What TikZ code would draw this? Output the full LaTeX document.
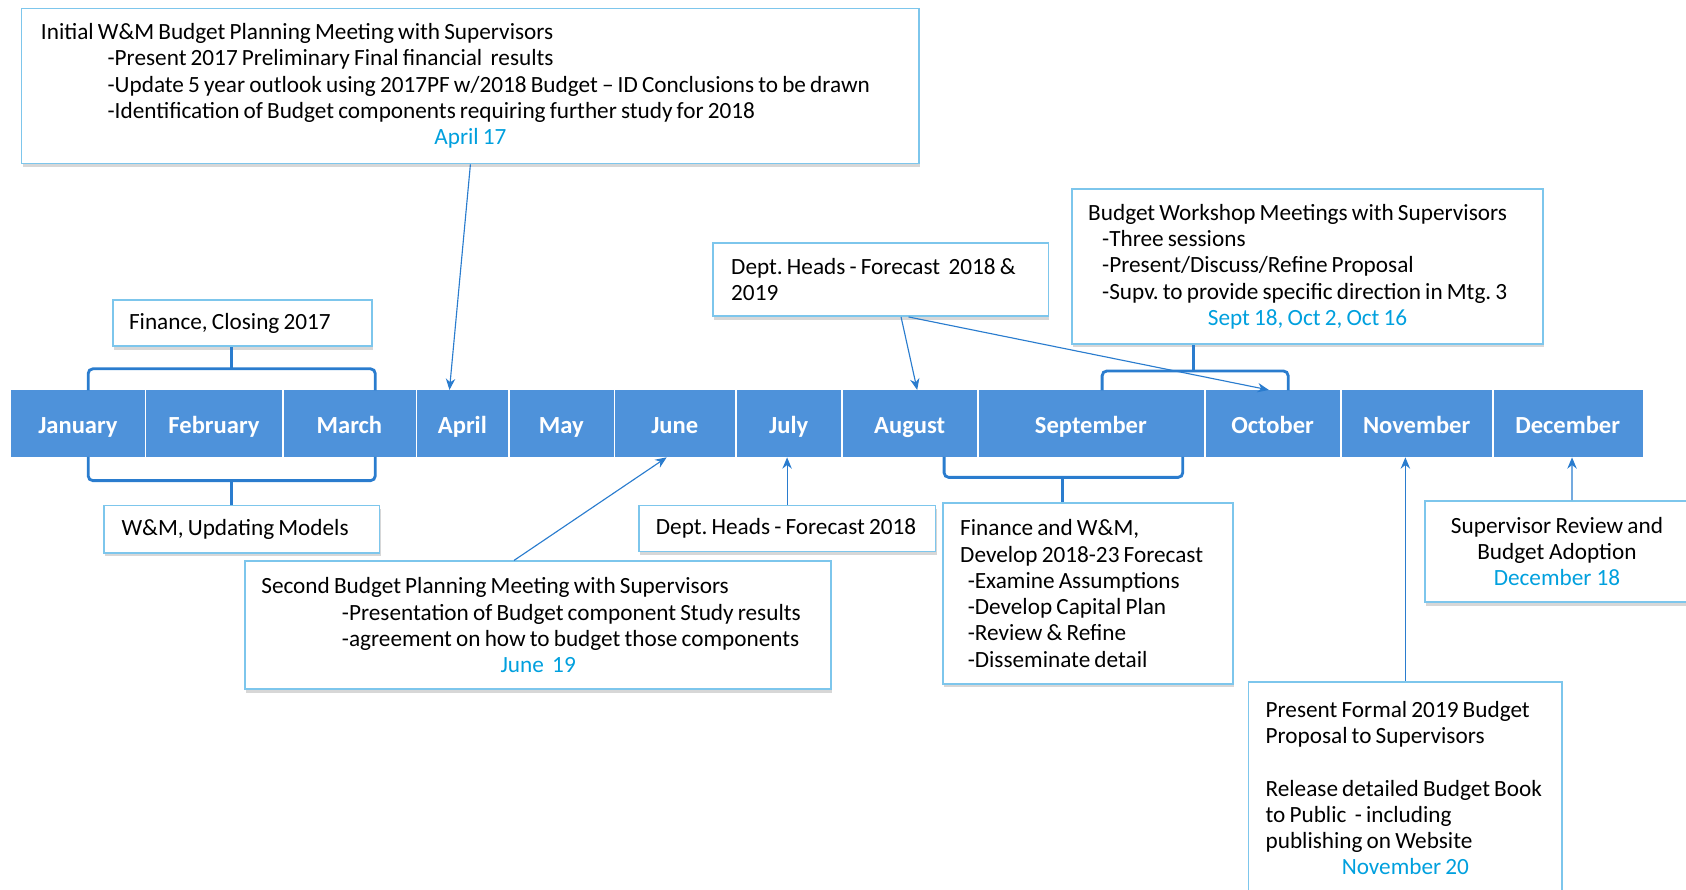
\documentclass[tikz,border=0pt]{standalone}
\usepackage{fontspec}
\setmainfont{Carlito}
\usepackage{xcolor}
\usetikzlibrary{arrows.meta,shadows}
\definecolor{barblue}{RGB}{78,146,218}
\definecolor{boxline}{RGB}{125,198,236}
\definecolor{linkblue}{RGB}{42,124,206}
\definecolor{datecyan}{RGB}{0,160,222}
\DeclareRobustCommand{\tightwords}{\spaceskip=2.2pt plus 0.5pt minus 0.3pt\relax\xspaceskip=\spaceskip}
\tikzset{
   box/.style={draw=boxline, line width=0.9pt, fill=white, inner ysep=0pt, align=left,
      drop shadow={shadow xshift=0.6pt, shadow yshift=-1.8pt, opacity=0.35, fill=black!45},
      font=\fontsize{12.3}{13.9}\selectfont, execute at begin node=\tightwords},
   month/.style={fill=barblue, text=white, inner sep=0pt, minimum height=1.24cm,
      text height=12.4pt, text depth=2.5pt, font=\fontsize{13}{15}\selectfont\bfseries},
   divider/.style={white, line width=0.9pt},
   arr/.style={draw=linkblue, line width=0.6pt, -{Stealth[length=6pt,width=5pt]}},
   brace/.style={draw=linkblue, line width=1.5pt, rounded corners=2.5pt}
}
\newcommand{\when}[1]{\makebox[\linewidth][c]{\color{datecyan}#1}}
\begin{document}
\begin{tikzpicture}[x=0.02cm,y=-0.02cm]
   \useasboundingbox (0,0) rectangle (1568,827);
   \foreach \m/\l/\r/\t in {jan/10/135/January, feb/135/263/February, mar/263/387/March, apr/387/473/April, may/473/571/May, jun/571/684/June, jul/684/783/July, aug/783/909/August, sep/909/1120/September, oct/1120/1247/October, nov/1247/1388/November, dec/1388/1528/December}
      \node[month, minimum width={(\r-\l)*0.02cm}] (\m) at ({(\l+\r)/2},394) {\t};
   \foreach \m in {jan,feb,mar,apr,may,jun,jul,aug,sep,oct,nov}
      \draw[divider] (\m.north east) -- (\m.south east);

   \node[box, text width=15.98cm, inner xsep=0.36cm, minimum height=2.88cm] (initial) at (437.5,80)
      {Initial W\&M Budget Planning Meeting with Supervisors\\
      \hspace*{1.24cm}-Present 2017 Preliminary Final financial\ \ results\\
      \hspace*{1.24cm}-Update 5 year outlook using 2017PF w/2018 Budget -- ID Conclusions to be drawn\\
      \hspace*{1.24cm}-Identification of Budget components requiring further study for 2018\\
      \when{April 17}};
   \node[box, text width=4.22cm, inner xsep=0.3cm, minimum height=0.86cm] (finclose) at (225.5,300.5) {Finance, Closing 2017};
   \node[box, text width=4.48cm, inner xsep=0.32cm, minimum height=0.88cm] (wmupdate) at (225,492) {W\&M, Updating Models};
   \node[box, text width=5.56cm, inner xsep=0.34cm, minimum height=1.36cm] (heads2) at (819,260) {Dept. Heads - Forecast\ \ 2018 \&\\2019};
   \node[box, text width=8.16cm, inner xsep=0.3cm, minimum height=2.88cm] (workshop) at (1216,248)
      {Budget Workshop Meetings with Supervisors\\
      \hspace*{0.26cm}-Three sessions\\
      \hspace*{0.26cm}-Present/Discuss/Refine Proposal\\
      \hspace*{0.26cm}-Supv. to provide specific direction in Mtg. 3\\
      \when{Sept 18, Oct 2, Oct 16}};
   \node[box, text width=10.3cm, inner xsep=0.3cm, minimum height=2.38cm] (second) at (500.5,581.5)
      {Second Budget Planning Meeting with Supervisors\\
      \hspace*{1.5cm}-Presentation of Budget component Study results\\
      \hspace*{1.5cm}-agreement on how to budget those components\\
      \when{June\ \ 19}};
   \node[box, text width=4.88cm, inner xsep=0.32cm, minimum height=0.86cm] (heads1) at (732,491.5) {Dept. Heads - Forecast 2018};
   \node[box, text width=4.76cm, inner xsep=0.32cm, minimum height=3.36cm] (finance) at (1012,552)
      {Finance and W\&M,\\
      Develop 2018-23 Forecast\\
      \hspace*{0.14cm}-Examine Assumptions\\
      \hspace*{0.14cm}-Develop Capital Plan\\
      \hspace*{0.14cm}-Review \& Refine\\
      \hspace*{0.14cm}-Disseminate detail};
   \node[box, text width=5.2cm, inner xsep=0.32cm, minimum height=3.96cm] (present) at (1307,733)
      {Present Formal 2019 Budget\\
      Proposal to Supervisors\\[13.9pt]
      Release detailed Budget Book\\
      to Public\ \ - including\\
      publishing on Website\\
      \when{November 20}};
   \node[box, align=center, text width=4.3cm, inner xsep=0.31cm, minimum height=1.88cm] (review) at (1448,513)
      {Supervisor Review and\\
      Budget Adoption\\
      \textcolor{datecyan}{December 18}};

   \coordinate (q1) at (215,343);
   \coordinate (q2) at (215,447);
   \coordinate (q3) at (1110,345);
   \coordinate (q4) at (988,444);
   \draw[brace] (82,363) |- (q1) -| (349,363);
   \draw[brace] (q1) -- (q1 |- finclose.south);
   \draw[brace] (82,425) |- (q2) -| (349,425);
   \draw[brace] (q2) -- (q2 |- wmupdate.north);
   \draw[brace] (1025,363) |- (q3) -| (1198,363);
   \draw[brace] (q3) -- (q3 |- workshop.south);
   \draw[brace] (878,425) |- (q4) -| (1100,425);
   \draw[brace] (q4) -- (q4 |- finance.north);

   \draw[arr] (initial.south) -- ([xshift=-0.24cm]apr.north);
   \draw[arr] ([xshift=0.38cm]heads2.south) -- ([xshift=0.14cm]aug.north);
   \draw[arr] ([xshift=0.52cm]heads2.south) -- ([xshift=-0.07cm]oct.north);
   \draw[arr] ([xshift=-0.45cm]second.north) -- ([xshift=-0.15cm]jun.south);
   \draw[arr] (heads1.north) -- (heads1.north |- jul.south);
   \draw[arr] (present.north) -- (present.north |- nov.south);
   \draw[arr] ([xshift=0.28cm]review.north) -- ([xshift=0.08cm]dec.south);
\end{tikzpicture}
\end{document}
